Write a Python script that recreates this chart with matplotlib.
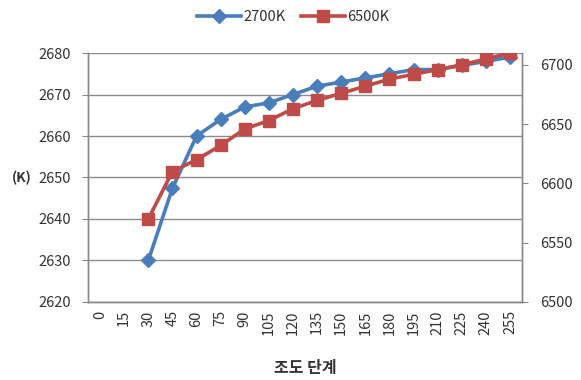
import matplotlib
matplotlib.use("Agg")
import matplotlib.pyplot as plt
import numpy as np

plt.rcParams['font.family'] = ['Noto Sans CJK KR', 'DejaVu Sans']

# 조도 단계 (0 ~ 255, 15 간격)
levels = [0, 15, 30, 45, 60, 75, 90, 105, 120, 135, 150, 165, 180, 195, 210, 225, 240, 255]

# 색온도 측정값 (K), 0/15 단계는 측정 없음
cct_2700 = [np.nan, np.nan, 2630, 2647.4, 2660, 2664, 2667, 2668, 2670, 2672,
            2673, 2674, 2675, 2676, 2676, 2677, 2678, 2679]
cct_6500 = [np.nan, np.nan, 6570, 6610, 6620, 6632, 6646, 6653, 6663, 6670,
            6676, 6682, 6688, 6692, 6696, 6700, 6705, 6710]

blue = '#4A7EBB'
red = '#BE4B48'
axis_gray = '#888888'
text_col = '#333333'

fig = plt.figure(figsize=(5.81, 3.8), dpi=100)
ax1 = fig.add_axes([0.1515, 0.2053, 0.747, 0.6552])
ax2 = ax1.twinx()

x = np.arange(len(levels))

l1, = ax1.plot(x, cct_2700, color=blue, lw=2.6, marker='D', ms=7.5,
               mfc=blue, mec=blue, label='2700K')
l2, = ax2.plot(x, cct_6500, color=red, lw=2.6, marker='s', ms=8.5,
               mfc=red, mec=red, label='6500K')

ax1.set_xlim(-0.5, len(levels) - 0.5)
ax1.set_ylim(2620, 2680)
ax1.set_yticks(range(2620, 2681, 10))
ax2.set_ylim(6500, 6710)
ax2.set_yticks(range(6500, 6701, 50))

ax1.set_xticks(x)
ax1.set_xticklabels([str(v) for v in levels], rotation=90)

ax1.grid(axis='y', color='#8C8C8C', lw=1.0)
ax1.set_axisbelow(True)

for ax in (ax1, ax2):
    ax.spines['top'].set_visible(False)
    for side in ('left', 'right', 'bottom'):
        ax.spines[side].set_color(axis_gray)
        ax.spines[side].set_linewidth(1.0)
    ax.tick_params(colors=axis_gray, labelcolor=text_col, labelsize=10.5, length=4)

ax1.tick_params(axis='x', length=0, pad=6)
ax1.tick_params(axis='y', pad=8)
ax2.tick_params(axis='y', pad=9)

ax1.set_xlabel('조도 단계', fontsize=11.5, fontweight='bold', color=text_col, labelpad=18)
ax1.set_ylabel('(K)', fontsize=10, fontweight='bold', color=text_col,
               rotation=0, labelpad=12, va='center')

fig.legend(handles=[l1, l2], loc='center', bbox_to_anchor=(0.505, 0.955), ncol=2,
           frameon=False, fontsize=10.5, handlelength=3.0, columnspacing=1.0,
           handletextpad=0.2, labelcolor=text_col)

fig.savefig('out.png', dpi=100)
